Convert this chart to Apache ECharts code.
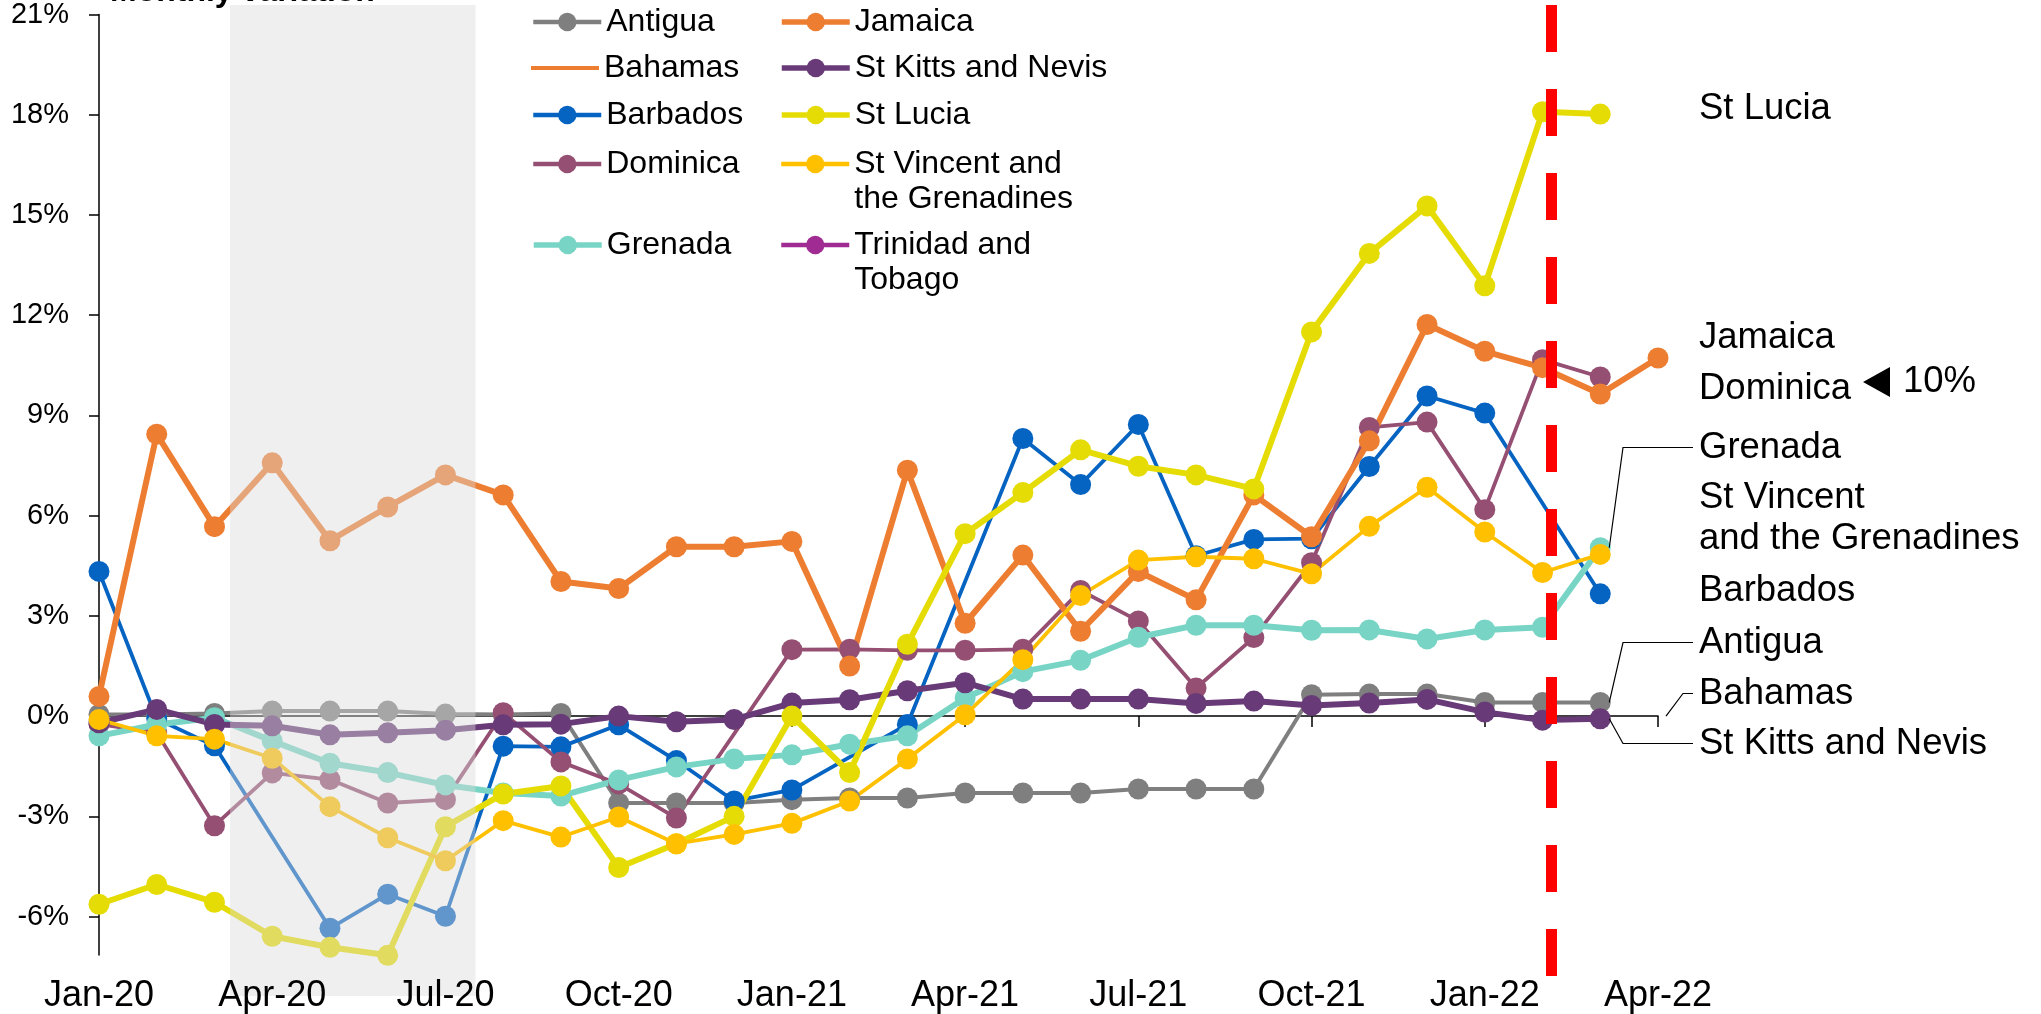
<!DOCTYPE html>
<html><head><meta charset="utf-8">
<script src="https://cdn.jsdelivr.net/npm/echarts@6/dist/echarts.min.js"></script>
<style>html,body{margin:0;padding:0;background:#fff;overflow:hidden}#c{width:2041px;height:1014px}</style>
</head><body><div id="c"></div>
<script>
// ---------------- DATA ----------------
const months = ['Jan-20','Feb-20','Mar-20','Apr-20','May-20','Jun-20','Jul-20','Aug-20','Sep-20','Oct-20','Nov-20','Dec-20',
  'Jan-21','Feb-21','Mar-21','Apr-21','May-21','Jun-21','Jul-21','Aug-21','Sep-21','Oct-21','Nov-21','Dec-21',
  'Jan-22','Feb-22','Mar-22','Apr-22'];
const yTickValues = [-6, -3, 0, 3, 6, 9, 12, 15, 18, 21];
const antigua   = [0.05,0.05,0.08,0.15,0.15,0.15,0.06,0.05,0.08,-2.6,-2.6,-2.6,-2.5,-2.45,-2.45,-2.3,-2.3,-2.3,-2.18,-2.18,-2.18,0.64,0.66,0.66,0.41,0.41,0.41,null];
const bahamas   = [null,null,null,null,null,null,null,null,null,null,null,null,null,null,null,null,null,null,null,null,null,null,null,null,null,null,null,null];
const barbados  = [4.33,-0.08,-0.89,null,-6.35,-5.33,-5.99,-0.9,-0.92,-0.26,-1.33,-2.54,-2.21,null,-0.25,null,8.31,6.93,8.73,4.8,5.29,5.31,7.47,9.58,9.07,null,3.66,null];
const dominica  = [-0.24,-0.5,-3.28,-1.7,-1.9,-2.6,-2.5,0.1,-1.37,-2.03,-3.05,null,1.99,2.0,1.97,1.97,2.0,3.76,2.85,0.84,2.35,4.59,8.64,8.8,6.18,10.67,10.15,null];
const grenada   = [-0.59,-0.25,-0.05,-0.74,-1.41,-1.69,-2.06,-2.3,-2.39,-1.91,-1.52,-1.28,-1.16,-0.84,-0.59,0.54,1.33,1.67,2.36,2.72,2.72,2.57,2.58,2.31,2.58,2.66,5.04,null];
const jamaica   = [0.59,8.44,5.67,7.58,5.25,6.26,7.22,6.62,4.03,3.82,5.07,5.07,5.23,1.5,7.36,2.78,4.82,2.54,4.33,3.48,6.62,5.37,8.24,11.72,10.92,10.43,9.64,10.72];
const stKitts   = [-0.2,0.2,-0.25,-0.29,-0.56,-0.5,-0.42,-0.26,-0.24,0.0,-0.17,-0.1,0.39,0.49,0.76,1.0,0.51,0.51,0.51,0.38,0.45,0.32,0.39,0.5,0.12,-0.12,-0.08,null];
const stLucia   = [-5.63,-5.04,-5.57,-6.59,-6.92,-7.16,-3.31,-2.33,-2.09,-4.53,-3.82,-3.0,0.0,-1.69,2.15,5.46,6.69,7.97,7.48,7.22,6.8,11.5,13.85,15.27,12.88,18.09,18.02,null];
const stVincent = [-0.1,-0.59,-0.69,-1.26,-2.71,-3.64,-4.33,-3.13,-3.62,-3.02,-3.82,-3.54,-3.21,-2.54,-1.28,0.04,1.69,3.61,4.67,4.77,4.71,4.26,5.68,6.85,5.51,4.3,4.84,null];
const trinidad  = [null,null,null,null,null,null,null,null,null,null,null,null,null,null,null,null,null,null,null,null,null,null,null,null,null,null,null,null];
const referenceLevel = 10;          // 10% reference line
const shadedPeriod = [2.27, 6.52];  // month-index span of shaded period
const markerMonth = 25.15;          // red dashed line (late Feb-22)

// ---------------- STYLE ----------------
const FONT = "'Liberation Sans', Arial, sans-serif";
const seriesDefs = [
  {name:'Antigua', data:antigua, color:'#7f7f7f', width:4, legendWidth:4.5},
  {name:'Bahamas', data:bahamas, color:'#ed7d31', width:3.5, legendWidth:4, noSymbol:true},
  {name:'Barbados', data:barbados, color:'#0563c1', width:3.8, legendWidth:4.5},
  {name:'Dominica', data:dominica, color:'#954f72', width:3.8, legendWidth:4.5},
  {name:'Grenada', data:grenada, color:'#78d5c5', width:6, legendWidth:5.5},
  {name:'Jamaica', data:jamaica, color:'#ed7d31', width:6, legendWidth:5.5},
  {name:'St Kitts and Nevis', data:stKitts, color:'#683a77', width:6, legendWidth:5.5},
  {name:'St Lucia', data:stLucia, color:'#e6dc05', width:6, legendWidth:5.5},
  {name:'St Vincent and the Grenadines', data:stVincent, color:'#ffc000', width:3.8, legendWidth:4.5},
  {name:'Trinidad and Tobago', data:trinidad, color:'#a02b93', width:3.8, legendWidth:4.5}
];

const legendLayout = {
  'Antigua': {left:531, cy:22, text:'Antigua'},
  'Bahamas': {left:531, cy:68, text:'Bahamas'},
  'Barbados': {left:531, cy:115, text:'Barbados'},
  'Dominica': {left:531, cy:164, text:'Dominica'},
  'Grenada': {left:531, cy:245, text:'Grenada'},
  'Jamaica': {left:779, cy:22, text:'Jamaica'},
  'St Kitts and Nevis': {left:779, cy:68, text:'St Kitts and Nevis'},
  'St Lucia': {left:779, cy:115, text:'St Lucia'},
  'St Vincent and the Grenadines': {left:779, cy:164, text:'\nSt Vincent and\nthe Grenadines', lines:3},
  'Trinidad and Tobago': {left:779, cy:245, text:'\nTrinidad and\nTobago', lines:3}
};

const chart = echarts.init(document.getElementById('c'), null, {renderer:'canvas'});

const series = seriesDefs.map(d => ({
  name: d.name,
  type: 'line',
  xAxisIndex: 0, yAxisIndex: 0,
  data: d.data.map((v, i) => [i, v == null ? '-' : v]),
  connectNulls: true,
  clip: false,
  symbol: d.noSymbol ? 'none' : 'circle',
  symbolSize: 21,
  showSymbol: true,
  itemStyle: {color: d.color},
  lineStyle: {color: d.color, width: d.width},
  emphasis: {disabled: true},
  z: 2
}));

// reference 10% dashed line
series.unshift({
  name: 'ref', type: 'line', xAxisIndex: 0, yAxisIndex: 0, data: [], z: 1, silent: true,
  markLine: {
    silent: true, symbol: ['none','none'], label: {show:false},
    lineStyle: {color:'#d9dfea', width:5, type:[24,18]},
    emphasis: {disabled:true},
    data: [[{coord:[0, referenceLevel]}, {coord:[27.32, referenceLevel]}]]
  }
});

// translucent band over the shaded period (drawn on top of the lines)
series.push({
  name: 'band', type: 'custom', xAxisIndex: 2, yAxisIndex: 1, z: 10, silent: true,
  data: [[shadedPeriod[0], shadedPeriod[1]]],
  renderItem: (params, api) => {
    const p0 = api.coord([api.value(0), 1]);
    const p1 = api.coord([api.value(1), 0]);
    return {type:'rect', shape:{x:p0[0], y:p0[1], width:p1[0]-p0[0], height:p1[1]-p0[1]},
            style:{fill:'rgba(218,218,218,0.43)'}};
  }
});
// red dashed vertical marker
series.push({
  name: 'marker', type: 'line', xAxisIndex: 2, yAxisIndex: 1, data: [], z: 11, silent: true,
  markLine: {
    silent: true, symbol: ['none','none'], label: {show:false},
    lineStyle: {color:'#ff0000', width:11, type:[47,37], cap:'butt'},
    emphasis: {disabled:true},
    data: [[{coord:[markerMonth, 1]}, {coord:[markerMonth, 0]}]]
  }
});

const legends = seriesDefs.map(d => {
  const L = legendLayout[d.name];
  const lines = L.lines || 1;
  const lh = lines > 1 ? 35.5 : 38;
  const h = lh * lines;
  const item = {name: d.name};
  if (d.noSymbol) { item.icon = 'rect'; }
  return {
    data: [item],
    left: L.left, top: L.cy - h / 2,
    padding: 0,
    itemWidth: 68, itemHeight: d.noSymbol ? 4 : 23,
    itemGap: 0,
    selectedMode: false,
    lineStyle: {width: d.legendWidth, color: d.color},
    itemStyle: {color: d.color},
    formatter: () => L.text,
    textStyle: {fontFamily: FONT, fontSize: 32, color:'#000', lineHeight: lh}
  };
});

const option = {
  animation: false,
  backgroundColor: '#fff',
  textStyle: {fontFamily: FONT},
  grid: [
    {left: 99, right: 383, top: 5, bottom: 54.7, containLabel: false},
    {left: 99, right: 383, top: 5, bottom: 18, containLabel: false}
  ],
  xAxis: [
    {type:'value', gridIndex:0, min:0, max:27, interval:3, position:'bottom', z: 20,
     axisLine:{show:false, onZero:false}, axisTick:{show:false}, splitLine:{show:false},
     axisLabel:{formatter: v => months[v], fontSize:36, color:'#000', margin:23, fontFamily:FONT}},
    {type:'value', gridIndex:0, min:0, max:27, interval:3, position:'bottom',
     axisLine:{show:true, onZero:true, lineStyle:{color:'#000', width:1.5}},
     axisTick:{show:true, length:11, lineStyle:{color:'#000', width:1.5}},
     axisLabel:{show:false}, splitLine:{show:false}},
    {type:'value', gridIndex:1, min:0, max:27, show:false}
  ],
  yAxis: [
    {type:'value', gridIndex:0, min:-7.15, max:21,
     axisLine:{show:true, onZero:false, lineStyle:{color:'#000', width:1.5}},
     axisTick:{show:true, length:10, lineStyle:{color:'#000', width:1.5}, customValues: yTickValues},
     axisLabel:{customValues: yTickValues, formatter: v => v + '%', fontSize:29, color:'#000', margin:30, fontFamily:FONT},
     splitLine:{show:false}},
    {type:'value', gridIndex:1, min:0, max:1, show:false}
  ],
  legend: legends,
  series: series
};
chart.setOption(option);

// ---------------- ANNOTATIONS ----------------
function px(i, v) { return chart.convertToPixel({xAxisIndex:0, yAxisIndex:0}, [i, v]); }
const labelX = 1699;
const rightLabels = [
  {text:'St Lucia', y:109},
  {text:'Jamaica', y:338},
  {text:'Dominica', y:389},
  {text:'Grenada', y:447.5},
  {text:'St Vincent\nand the Grenadines', y:518.5},
  {text:'Barbados', y:591},
  {text:'Antigua', y:642.5},
  {text:'Bahamas', y:693.5},
  {text:'St Kitts and Nevis', y:743.5}
];
const graphics = [];
rightLabels.forEach(l => graphics.push({
  type:'text', x: labelX, y: l.y,
  style:{text:l.text, fontSize:36.5, fontFamily:FONT, fill:'#000', textVerticalAlign:'middle', textAlign:'left', lineHeight:41}
}));
// title (partly cut off at top)
graphics.push({type:'text', x:110, y:-8, style:{text:'Monthly variation', fontSize:32, fontWeight:'bold', fontFamily:FONT, fill:'#000', textVerticalAlign:'middle'}});
// 10% marker
const y10 = px(0, referenceLevel)[1];
graphics.push({type:'polygon', shape:{points:[[1863, y10],[1890, y10-15],[1890, y10+15]]}, style:{fill:'#000'}});
graphics.push({type:'text', x:1903, y:y10, style:{text:'10%', fontSize:36.5, fontFamily:FONT, fill:'#000', textVerticalAlign:'middle'}});
// leader lines
const elbowX = 1623, endX = 1693;
function leader(p, ly, off) {
  return {type:'polyline', shape:{points:[[p[0]+off, p[1]], [elbowX, ly], [endX, ly]]}, style:{stroke:'#000', lineWidth:1.2, fill:null}, z:30};
}
graphics.push(leader(px(26, grenada[26]), 447.5, 9));
graphics.push(leader(px(26, antigua[26]), 642.5, 9));
graphics.push(leader(px(26, stKitts[26]), 743.5, 9));
const pb = px(27, 0);
graphics.push({type:'polyline', shape:{points:[[pb[0]+8, pb[1]], [1683, 693.5], [endX, 693.5]]}, style:{stroke:'#000', lineWidth:1.2, fill:null}, z:30});
chart.setOption({graphic: graphics});
</script>
</body></html>
